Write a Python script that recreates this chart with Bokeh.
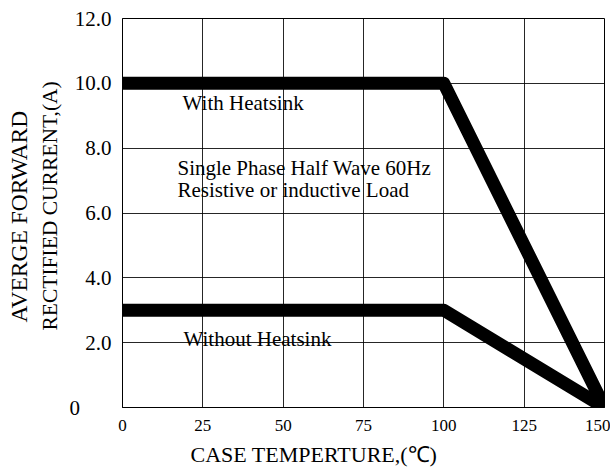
from bokeh.plotting import figure
from bokeh.models import Range1d, FixedTicker, Label, Title
from bokeh.embed import file_html
from bokeh.resources import INLINE

# Data
temp_with = [0, 100, 150]
current_with = [10, 10, 0]
temp_without = [0, 100, 150]
current_without = [3, 3, 0]
x_ticks = [0, 25, 50, 75, 100, 125, 150]
y_ticks = [0, 2, 4, 6, 8, 10, 12]
y_tick_labels = ["0" + "\u00a0" * 6, "2.0", "4.0", "6.0", "8.0", "10.0", "12.0"]

FONT = "Liberation Serif"

p = figure(output_backend="svg", toolbar_location=None,
           frame_width=482, frame_height=389,
           min_border_left=122, min_border_top=18, min_border_right=6, min_border_bottom=62,
           x_range=Range1d(0, 150), y_range=Range1d(0, 12))

p.background_fill_color = "white"
p.border_fill_color = "white"
p.outline_line_color = "black"
p.outline_line_width = 1

p.xaxis.ticker = FixedTicker(ticks=x_ticks)
p.yaxis.ticker = FixedTicker(ticks=y_ticks)
p.yaxis.major_label_overrides = {t: l for t, l in zip(y_ticks, y_tick_labels)}

for ax in (p.xaxis[0], p.yaxis[0]):
    ax.axis_line_color = "black"
    ax.major_tick_line_color = None
    ax.minor_tick_line_color = None
    ax.major_label_text_font = FONT
    ax.major_label_text_color = "black"

p.xaxis.major_label_text_font_size = "17px"
p.xaxis.major_label_standoff = 6
p.yaxis.major_label_text_font_size = "21px"
p.yaxis.major_label_standoff = 5

p.xgrid.grid_line_color = "black"
p.ygrid.grid_line_color = "black"
p.xgrid.grid_line_alpha = 0.85
p.ygrid.grid_line_alpha = 0.85

p.line(temp_with, current_with, line_color="black", line_width=13,
       line_cap="round", line_join="round")
p.line(temp_without, current_without, line_color="black", line_width=13,
       line_cap="round", line_join="round")

def txt(x, y, s, size="21px"):
    p.add_layout(Label(x=x, y=y, text=s, text_font=FONT, text_font_size=size,
                       text_color="black", text_align="left", text_baseline="alphabetic"))

txt(18.7, 9.40, "With Heatsink")
txt(17.1, 7.40, "Single Phase Half Wave 60Hz")
txt(17.1, 6.72, "Resistive or inductive Load")
txt(19.0, 2.12, "Without Heatsink")

def title(s, loc, align, offset, standoff, size="22px"):
    p.add_layout(Title(text=s, align=align, offset=offset, standoff=standoff,
                       text_font=FONT, text_font_size=size, text_font_style="normal",
                       text_color="black"), loc)

# axis titles
title("CASE TEMPERTURE,(\u2103)", "below", "left", 68, 12)
title("RECTIFIED CURRENT,(A)", "left", "left", 77, 9, "21.5px")
title("AVERGE FORWARD", "left", "left", 85, 0, "23.5px")

open("out.html", "w").write(file_html(p, INLINE))
